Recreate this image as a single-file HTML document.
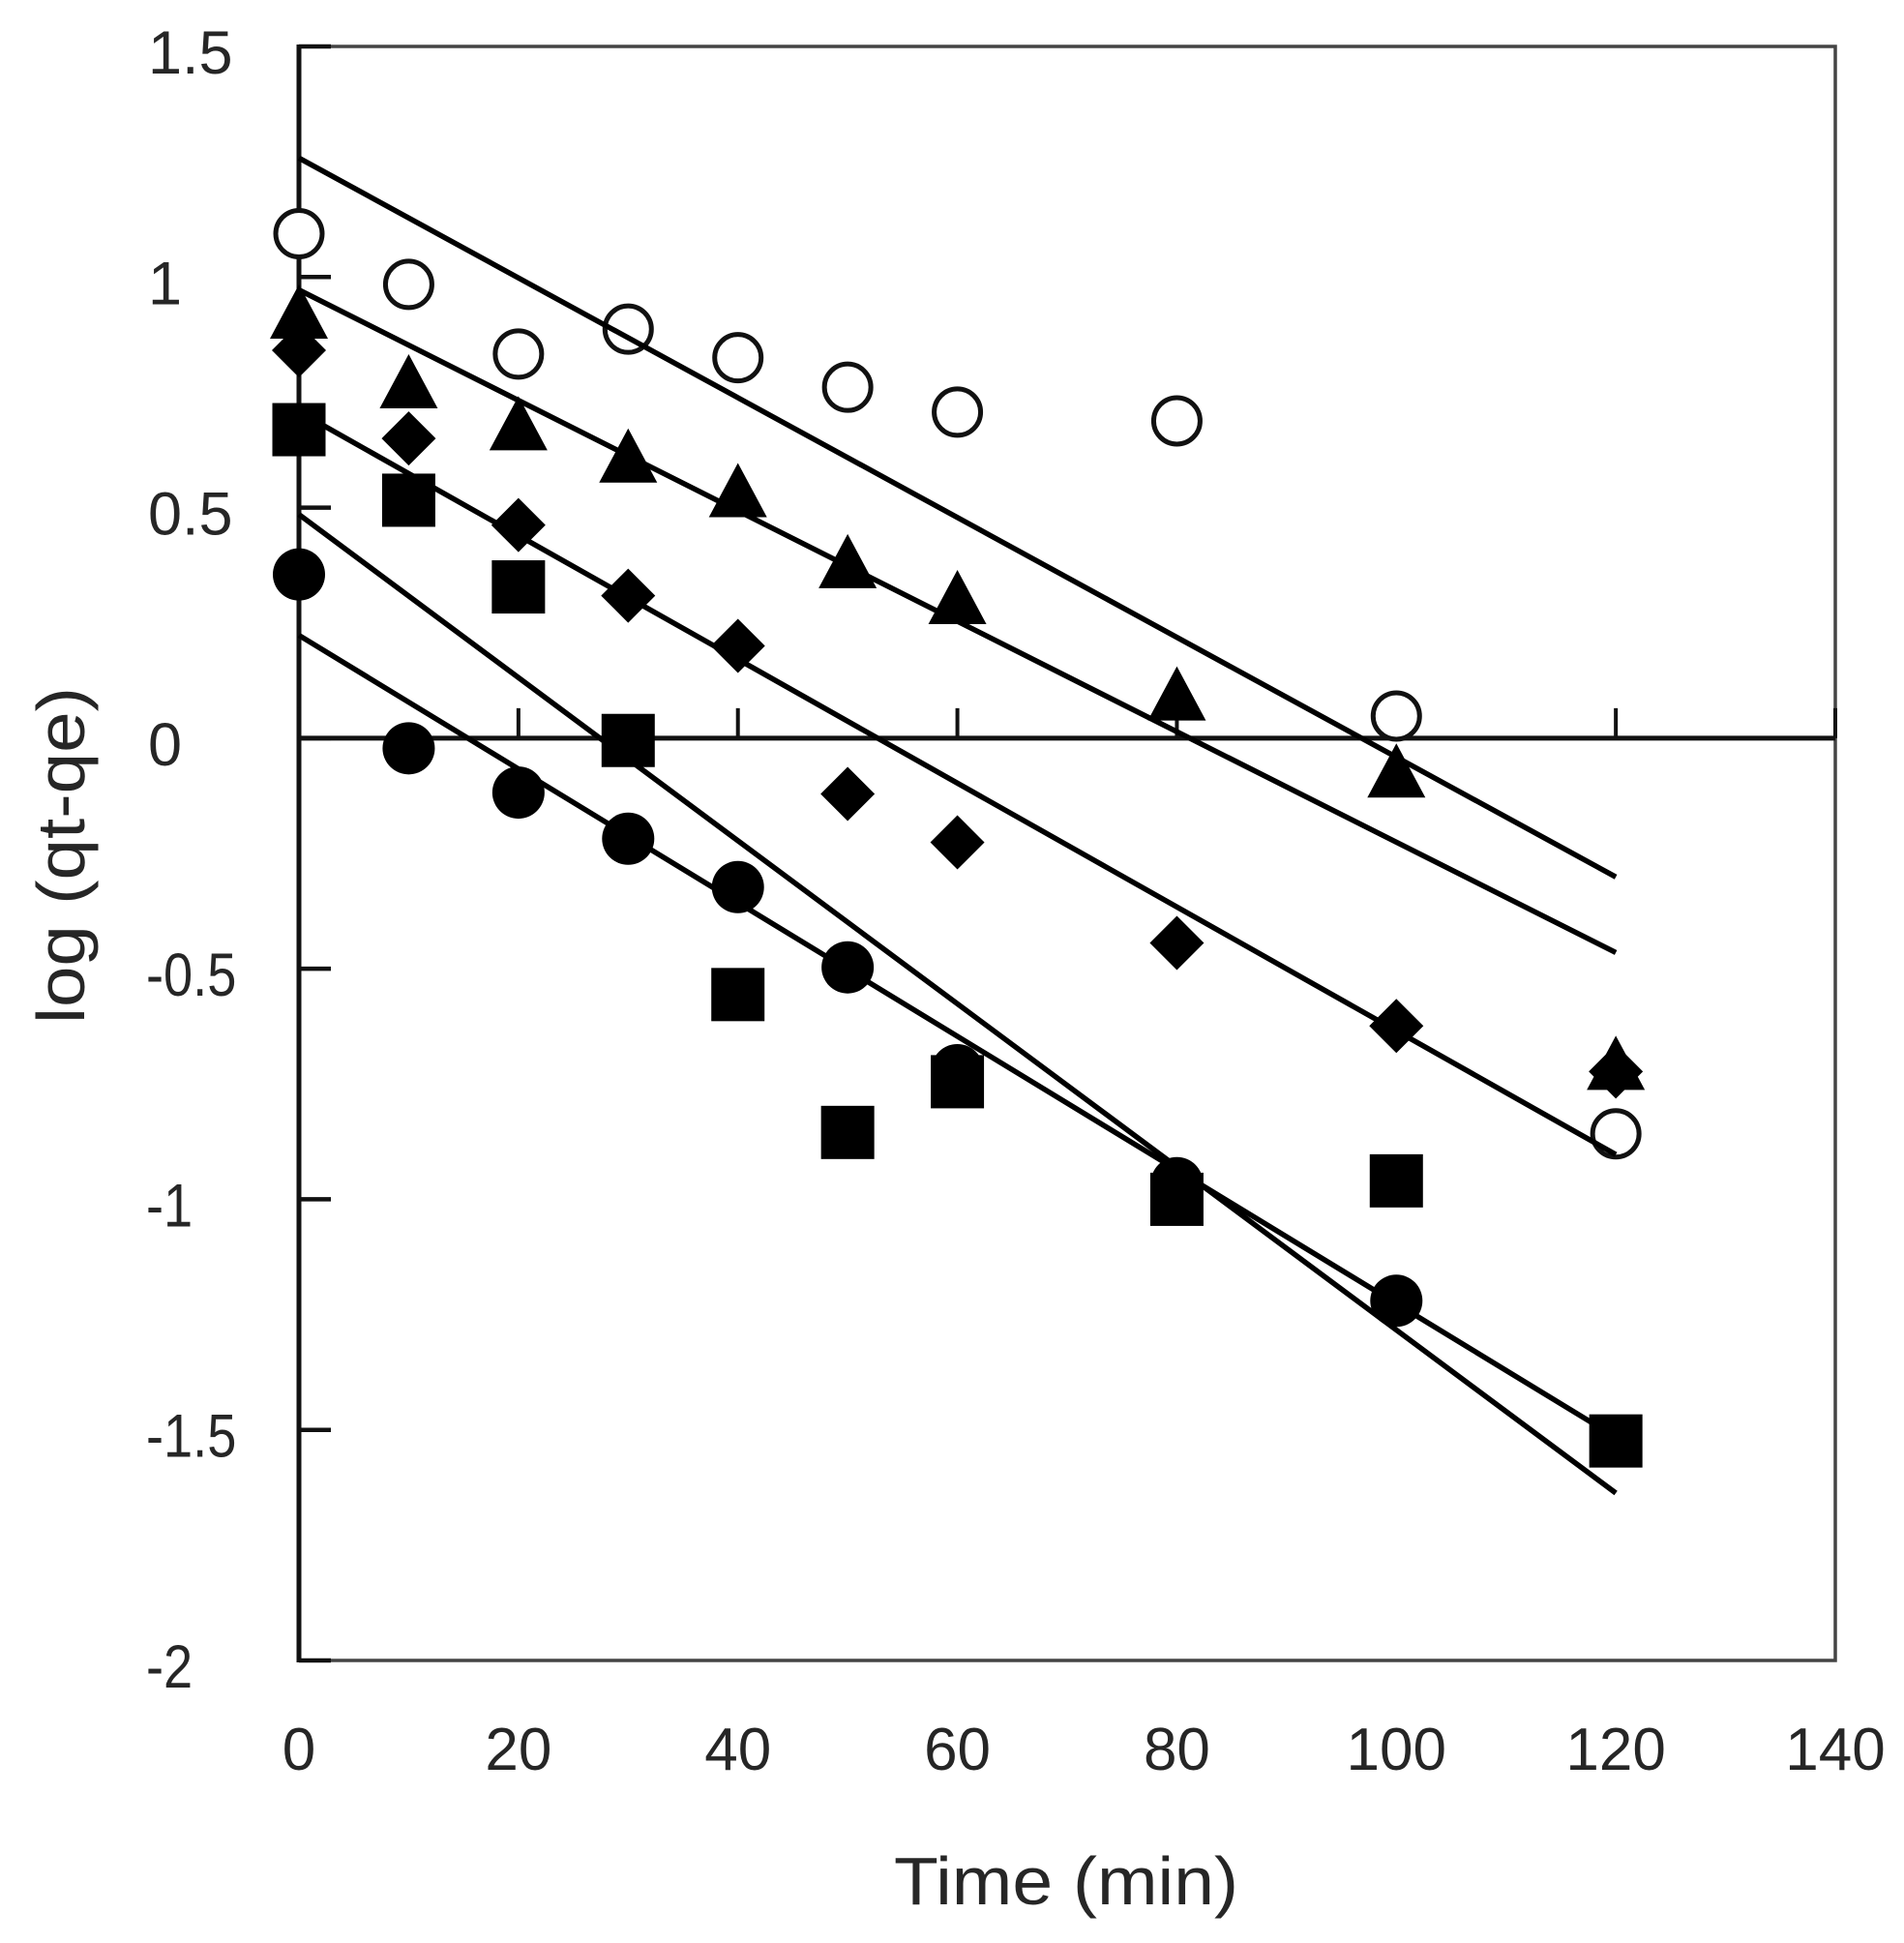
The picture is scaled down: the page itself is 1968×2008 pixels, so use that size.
<!DOCTYPE html>
<html lang="en">
<head>
<meta charset="utf-8">
<title>log (qt-qe) vs Time</title>
<style>
html,body{margin:0;padding:0;background:#fff;width:1968px;height:2008px;overflow:hidden}
svg{display:block}
text{font-family:"Liberation Sans",sans-serif;fill:#262626}
</style>
</head>
<body>
<svg id="chart" xmlns="http://www.w3.org/2000/svg" width="1968" height="2008" viewBox="0 0 1968 2008">
<rect x="0" y="0" width="1968" height="2008" fill="#ffffff"/>
<text x="1102" y="1968" font-size="70" text-anchor="middle" textLength="356" lengthAdjust="spacingAndGlyphs">Time (min)</text>
<text transform="translate(87 884) rotate(-90)" font-size="70" text-anchor="middle" textLength="348" lengthAdjust="spacingAndGlyphs">log (qt-qe)</text>
</svg>
<script>
const times = [0, 10, 20, 30, 40, 50, 60, 80, 100, 120];
const xTicks = [0, 20, 40, 60, 80, 100, 120, 140];
const yTicks = [1.5, 1, 0.5, 0, -0.5, -1, -1.5, -2];
const yTickLabels = ['1.5', '1', '0.5', '0', '-0.5', '-1', '-1.5', '-2'];
const openCircleValues = [1.094, 0.984, 0.833, 0.887, 0.825, 0.761, 0.707, 0.688, 0.048, -0.858];
const triangleValues = [0.925, 0.774, 0.683, 0.613, 0.538, 0.384, 0.306, 0.097, -0.07, -0.704];
const diamondValues = [0.841, 0.65, 0.462, 0.309, 0.2, -0.121, -0.226, -0.444, -0.624, -0.723];
const squareValues = [0.669, 0.516, 0.328, -0.005, -0.556, -0.855, -0.745, -1.0, -0.96, -1.524];
const filledCircleValues = [0.355, -0.022, -0.118, -0.218, -0.323, -0.497, -0.72, -0.965, -1.22, -1.524];
const fitStartValues = [1.258, 0.972, 0.708, 0.485, 0.223];
const fitEndValues = [-0.301, -0.465, -0.903, -1.637, -1.516];
const fitEndTime = 120;

const svg = document.getElementById('chart');
const NS = 'http://www.w3.org/2000/svg';
const xMin = 0, xMax = 140, yMin = -2, yMax = 1.5;
const left = 309, right = 1897, top_ = 48, bottom = 1716;
function xs(v) { return left + (v - xMin) / (xMax - xMin) * (right - left); }
function ys(v) { return top_ + (yMax - v) / (yMax - yMin) * (bottom - top_); }
function mk(tag, props) {
  const el = document.createElementNS(NS, tag);
  for (const k in props) el.setAttribute(k, props[k]);
  svg.appendChild(el);
  return el;
}

const frame = mk('path', { d: `M${left} ${top_}H${right}V${bottom}H${left}`, fill: 'none', stroke: '#444', 'stroke-width': 3.5 });



const yAxis = mk('line', { x1: left, y1: top_ - 2, x2: left, y2: bottom + 2, stroke: '#111', 'stroke-width': 5 });



const xAxis = mk('line', { x1: left, y1: ys(0), x2: right, y2: ys(0), stroke: '#111', 'stroke-width': 5 });



yTicks.forEach((v, i) => {
  const t = mk('line', { x1: left, y1: ys(v), x2: left + 33, y2: ys(v), stroke: '#111', 'stroke-width': 4.5 });
  
  
  const lab = mk('text', { x: yTickLabels[i].startsWith('-') ? 151 : 153, y: ys(v) + 28, 'font-size': 63 });
  lab.textContent = yTickLabels[i];
  
  
  if (yTickLabels[i].startsWith('-')) {
    lab.setAttribute('textLength', lab.getComputedTextLength() * 0.86);
    lab.setAttribute('lengthAdjust', 'spacingAndGlyphs');
  }
});

xTicks.forEach((v) => {
  const t = mk('line', { x1: xs(v), y1: ys(0), x2: xs(v), y2: ys(0) - 31, stroke: '#111', 'stroke-width': 4 });
  
  
  const lab = mk('text', { x: xs(v), y: 1829, 'font-size': 62, 'text-anchor': 'middle' });
  lab.textContent = String(v);
  
  
});

openCircleValues.forEach((v, i) => {
  const m = mk('circle', { cx: xs(times[i]), cy: ys(v), r: 24, fill: '#fff', stroke: '#111', 'stroke-width': 5 });
  
  
});

fitStartValues.forEach((v, i) => {
  const l = mk('line', { x1: xs(0), y1: ys(v), x2: xs(fitEndTime), y2: ys(fitEndValues[i]), stroke: '#000', 'stroke-width': 5.5 });
  
  
});

filledCircleValues.forEach((v, i) => {
  const m = mk('circle', { cx: xs(times[i]), cy: ys(v), r: 27, fill: '#000' });
  
  
});

squareValues.forEach((v, i) => {
  const m = mk('rect', { x: xs(times[i]) - 27.5, y: ys(v) - 27.5, width: 55, height: 55, fill: '#000' });
  
  
});

diamondValues.forEach((v, i) => {
  const x = xs(times[i]), y = ys(v);
  const m = mk('polygon', { points: `${x - 28},${y} ${x},${y - 28} ${x + 28},${y} ${x},${y + 28}`, fill: '#000' });
  
  
});

triangleValues.forEach((v, i) => {
  const x = xs(times[i]), y = ys(v);
  const m = mk('polygon', { points: `${x - 30},${y + 28} ${x},${y - 28} ${x + 30},${y + 28}`, fill: '#000' });
  
  
});
</script>
</body>
</html>
